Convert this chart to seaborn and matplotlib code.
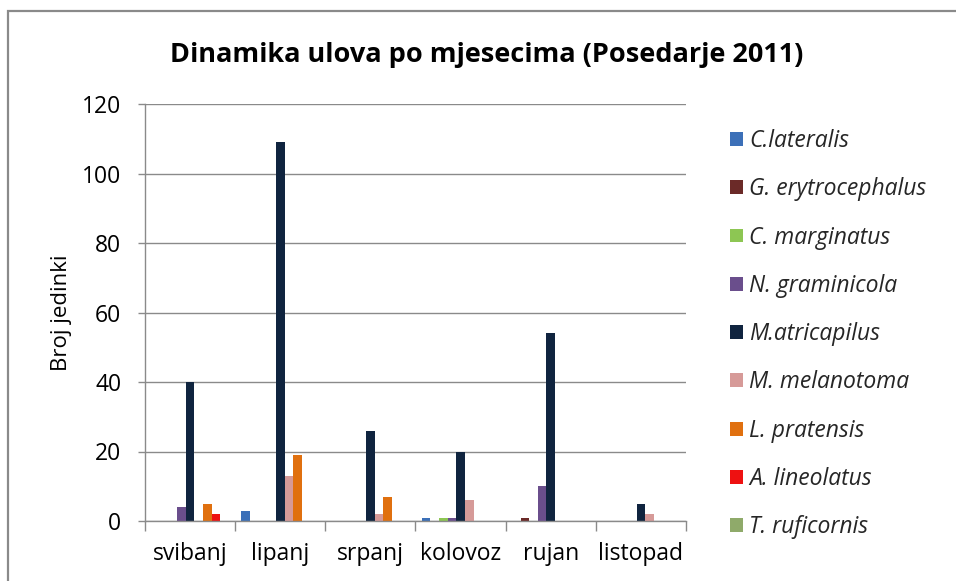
import pandas as pd
import matplotlib
matplotlib.use("Agg")
import matplotlib.pyplot as plt
import seaborn as sns
from matplotlib.patches import Rectangle

months = ['svibanj', 'lipanj', 'srpanj', 'kolovoz', 'rujan', 'listopad']
species = ['C.lateralis', 'G. erytrocephalus', 'C. marginatus', 'N. graminicola',
           'M.atricapilus', 'M. melanotoma', 'L. pratensis', 'A. lineolatus', 'T. ruficornis']

c_lateralis = [0, 3, 0, 1, 0, 0]
g_erytrocephalus = [0, 0, 0, 0, 1, 0]
c_marginatus = [0, 0, 0, 1, 0, 0]
n_graminicola = [4, 0, 0, 1, 10, 0]
m_atricapilus = [40, 109, 26, 20, 54, 5]
m_melanotoma = [0, 13, 2, 6, 0, 2]
l_pratensis = [5, 19, 7, 0, 0, 0]
a_lineolatus = [2, 0, 0, 0, 0, 0]
t_ruficornis = [0, 0, 0, 0, 0, 0]

colors = ['#3C70B8', '#6B2A28', '#8DC653', '#6A4E8C', '#10243F',
          '#D69A98', '#E0700F', '#EE1111', '#8FAA6A']

values = [c_lateralis, g_erytrocephalus, c_marginatus, n_graminicola, m_atricapilus,
          m_melanotoma, l_pratensis, a_lineolatus, t_ruficornis]

rows = []
for sp, vals in zip(species, values):
    for m, v in zip(months, vals):
        rows.append((m, sp, v))
df = pd.DataFrame(rows, columns=['Mjesec', 'Vrsta', 'Broj'])

sns.set_theme(style='white')
plt.rcParams['font.family'] = ['Open Sans', 'DejaVu Sans']

fig = plt.figure(figsize=(9.56, 5.81), dpi=100)
ax = fig.add_axes([145 / 956, 1 - 521 / 581, (686 - 145) / 956, (521 - 104) / 581])

sns.barplot(data=df, x='Mjesec', y='Broj', hue='Vrsta', palette=colors, saturation=1,
            hue_order=species, order=months, width=0.86, linewidth=0, ax=ax)

ax.set_ylim(0, 120)
ax.set_yticks(range(0, 121, 20))
ax.set_xlim(-0.5, 5.5)
ax.yaxis.grid(True, color='#8a8a8a', linewidth=1)
ax.set_axisbelow(True)
for s in ['top', 'right']:
    ax.spines[s].set_visible(False)
for s in ['left', 'bottom']:
    ax.spines[s].set_color('#8a8a8a')
    ax.spines[s].set_linewidth(1)

ax.set_xticks([i - 0.5 for i in range(7)], minor=True)
ax.tick_params(axis='x', which='major', length=0, pad=15, labelsize=16.5, colors='black')
ax.tick_params(axis='x', which='minor', length=7, width=1, color='#8a8a8a', direction='out', bottom=True)
ax.tick_params(axis='y', which='major', length=5, width=1, color='#8a8a8a', direction='out',
               left=True, pad=12, labelsize=16.5, labelcolor='black')

ax.set_xlabel('')
ax.set_ylabel('Broj jedinki', fontsize=16, labelpad=7, color='black')

fig.text(487 / 956, 1 - 55 / 581, 'Dinamika ulova po mjesecima (Posedarje 2011)',
         ha='center', va='center', fontsize=19.5, fontweight='bold', color='black')

handles, labels = ax.get_legend_handles_labels()
ax.get_legend().remove()
leg = fig.legend(handles, labels, loc='upper left', bbox_to_anchor=(730 / 956, 1 - 129 / 581),
                 frameon=False, prop={'style': 'italic', 'size': 16.5},
                 handlelength=0.55, handleheight=0.55, handletextpad=0.3,
                 labelspacing=1.06, borderpad=0, borderaxespad=0)

fig.patches.append(Rectangle((8 / 956, -0.1), 2, 1.1 - 11 / 581, transform=fig.transFigure,
                             fill=False, edgecolor='#8a8a8a', linewidth=1.6))

fig.savefig('out.png', dpi=100)
